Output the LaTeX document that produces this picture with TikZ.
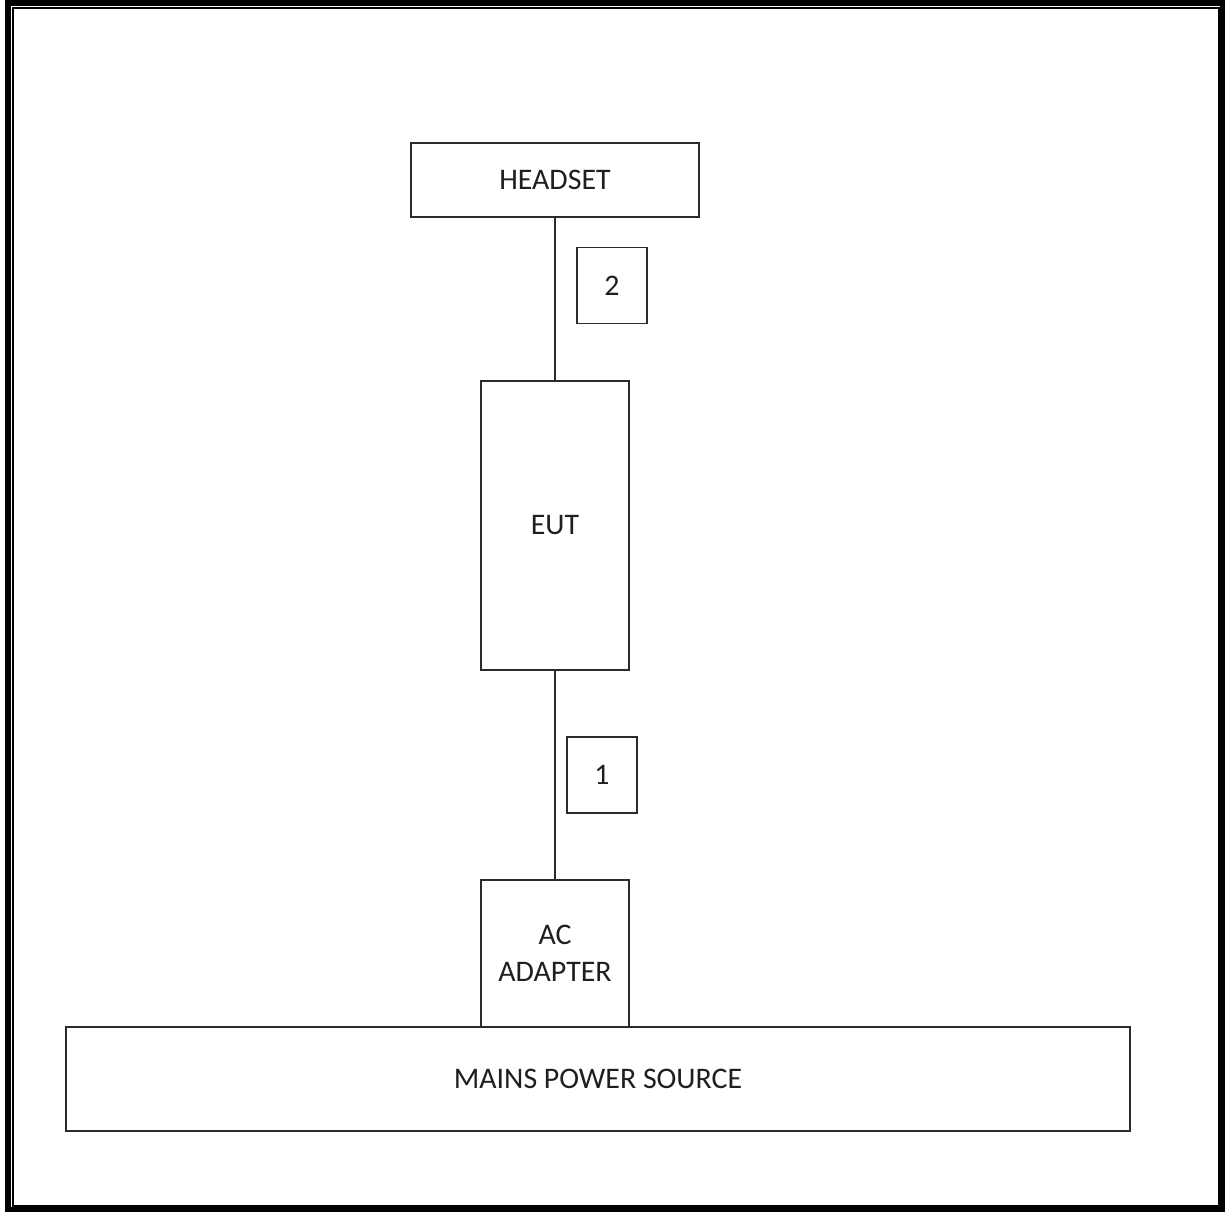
\documentclass[tikz,border=0pt]{standalone}
\usepackage{fontspec}
\setmainfont{Carlito}
\usetikzlibrary{positioning}
\definecolor{Ink}{HTML}{1F1F1F}
\definecolor{Edge}{HTML}{2B2B2B}
\tikzset{
  unitbox/.style={draw=Edge,fill=white,line width=1.1pt,align=center,inner sep=0pt,font=\fontsize{17}{21}\selectfont,text=Ink},
  tagbox/.style={draw=Edge,fill=white,line width=1.1pt,inner sep=0pt,minimum width=1.4cm,minimum height=1.52cm,font=\fontsize{17}{21}\selectfont,text=Ink},
  cable/.style={draw=Edge,line width=1.1pt}
}

\begin{document}
\begin{tikzpicture}[x=0.02cm,y=-0.02cm]
  \useasboundingbox (0,0) rectangle (1225,1212);
  % page frame
  \draw[line width=0.12cm] (8,3) rectangle (1223,1210);
  \draw[line width=0.04cm] (13,8) rectangle (1219,1206);
  % units
  \node[unitbox,minimum width=5.76cm,minimum height=1.48cm] (headset) at (555,180) {HEADSET};
  \node[unitbox,minimum width=2.96cm,minimum height=5.78cm] (eut) at (555,525.5) {EUT};
  \node[unitbox,minimum width=2.96cm,minimum height=2.94cm] (adapter) at (555,953.5) {AC\\ADAPTER};
  \node[unitbox,minimum width=21.28cm,minimum height=2.08cm] (mains) at (598,1079) {MAINS POWER SOURCE};
  % cables
  \draw[cable] (headset.south) -- (eut.north);
  \draw[cable] (eut.south) -- (adapter.north);
  % cable numbers
  \node[tagbox] (tag2) at (612,285.5) {2};
  \node[tagbox] (tag1) at (602,775) {1};
\end{tikzpicture}
\end{document}
